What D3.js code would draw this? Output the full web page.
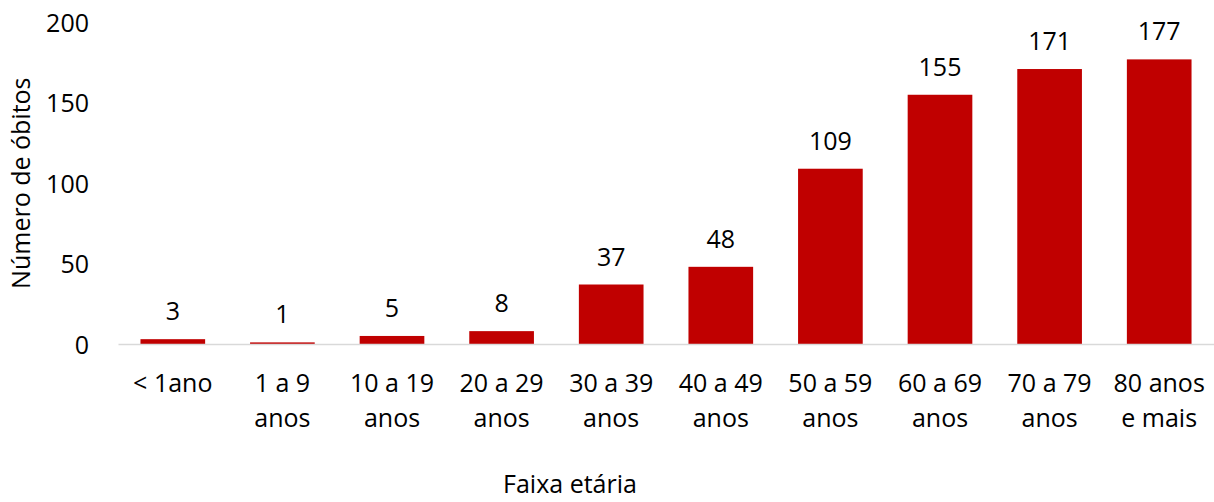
<!DOCTYPE html>
<html>
<head>
<meta charset="utf-8">
<script src="https://cdn.jsdelivr.net/npm/d3@7"></script>
<style>
  html, body { margin: 0; padding: 0; background: #fff; }
  svg text { font-family: "Open Sans", sans-serif; fill: #000; }
</style>
</head>
<body>
<svg id="chart" width="1214" height="502"></svg>
<script>
const categories = ["< 1ano", "1 a 9 anos", "10 a 19 anos", "20 a 29 anos", "30 a 39 anos", "40 a 49 anos", "50 a 59 anos", "60 a 69 anos", "70 a 79 anos", "80 anos e mais"];
const categoryLines = [["< 1ano"], ["1 a 9", "anos"], ["10 a 19", "anos"], ["20 a 29", "anos"], ["30 a 39", "anos"], ["40 a 49", "anos"], ["50 a 59", "anos"], ["60 a 69", "anos"], ["70 a 79", "anos"], ["80 anos", "e mais"]];
const deaths = [3, 1, 5, 8, 37, 48, 109, 155, 171, 177];
const yTicks = [0, 50, 100, 150, 200];
const yTitle = "Número de óbitos";
const xTitle = "Faixa etária";

const svg = d3.select("#chart");
const fontSize = 25;
const plotLeft = 118, plotRight = 1214, plotTop = 22.4, plotBottom = 344;

const x = d3.scaleBand().domain(categories).range([plotLeft, plotRight]).paddingInner(0.41).paddingOuter(0.205);
const y = d3.scaleLinear().domain([0, 200]).range([plotBottom, plotTop]);

// bars
svg.append("g").selectAll("rect").data(deaths).join("rect")
  .attr("x", (d, i) => x(categories[i]))
  .attr("width", x.bandwidth())
  .attr("y", d => y(d))
  .attr("height", d => y(0) - y(d))
  .attr("fill", "#C00000");

// baseline axis
const xAxis = d3.axisBottom(x).tickSize(0).tickFormat("");
const gx = svg.append("g").attr("transform", `translate(0,${y(0)})`).call(xAxis);
gx.select(".domain").attr("stroke", "#d9d9d9").attr("stroke-width", 1.3);

// x category labels
svg.append("g").selectAll("text").data(categories).join("text")
  .attr("text-anchor", "middle")
  .attr("font-size", fontSize)
  .attr("x", d => x(d) + x.bandwidth() / 2)
  .attr("y", 392)
  .each(function(d, i) {
    const t = d3.select(this);
    categoryLines[i].forEach((line, j) => {
      t.append("tspan").attr("x", x(d) + x.bandwidth() / 2).attr("dy", j === 0 ? 0 : 35).text(line);
    });
  });

// y axis
const yAxis = d3.axisLeft(y).tickValues(yTicks).tickSize(0).tickPadding(0);
const gy = svg.append("g").attr("transform", `translate(89,0)`).call(yAxis);
gy.select(".domain").remove();
gy.selectAll("text").attr("font-size", fontSize).attr("font-family", "Open Sans, sans-serif").attr("fill", "#000").attr("dy", "0.36em");

// data labels
svg.append("g").selectAll("text").data(deaths).join("text")
  .attr("text-anchor", "middle")
  .attr("font-size", fontSize)
  .attr("x", (d, i) => x(categories[i]) + x.bandwidth() / 2)
  .attr("y", d => y(d) - 19)
  .text(d => d);

// titles
svg.append("text")
  .attr("text-anchor", "middle")
  .attr("font-size", fontSize)
  .attr("transform", `translate(30,${(plotTop + plotBottom) / 2}) rotate(-90)`)
  .text(yTitle);

svg.append("text")
  .attr("text-anchor", "middle")
  .attr("font-size", fontSize)
  .attr("x", 570)
  .attr("y", 493)
  .text(xTitle);
</script>
</body>
</html>
